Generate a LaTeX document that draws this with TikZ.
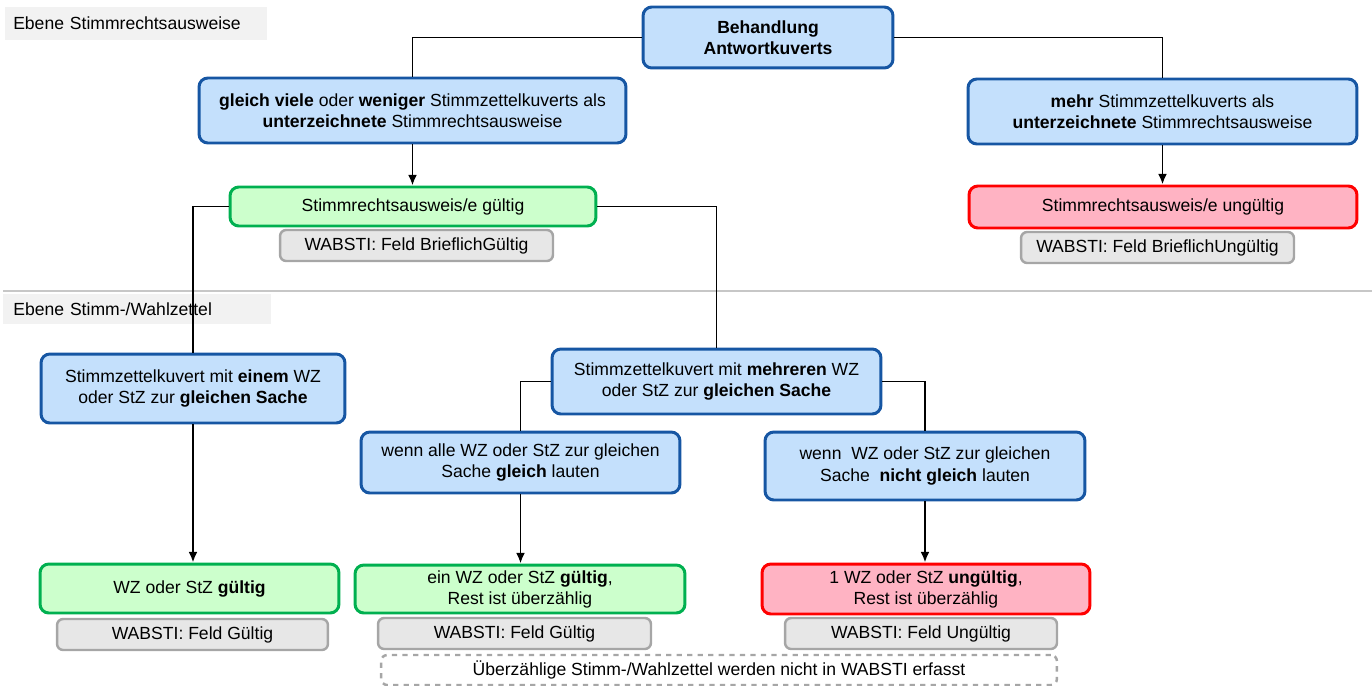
\documentclass[tikz,border=0pt]{standalone}
\usepackage{fontspec}
\setmainfont{Liberation Sans}
\usepackage{tikz}
\usetikzlibrary{arrows.meta}
\usepackage{xcolor}

\definecolor{boxblue}{HTML}{C4E0FC}
\definecolor{lineblue}{HTML}{1656A3}
\definecolor{boxgreen}{HTML}{CCFFCC}
\definecolor{linegreen}{HTML}{00B050}
\definecolor{boxred}{HTML}{FFB3C3}
\definecolor{linered}{HTML}{FF0000}
\definecolor{boxgray}{HTML}{E7E7E7}
\definecolor{linegray}{HTML}{A6A6A6}
\definecolor{levelgray}{HTML}{F2F2F2}

\begin{document}
\begin{tikzpicture}[x=0.02cm, y=-0.02cm,
    font=\fontsize{10}{12}\selectfont,
    box/.style={rounded corners=5pt, align=center, inner sep=2pt},
    blue box/.style={box, draw=lineblue, fill=boxblue, line width=1.7pt},
    green box/.style={box, draw=linegreen, fill=boxgreen, line width=1.7pt},
    red box/.style={box, draw=linered, fill=boxred, line width=1.7pt},
    field/.style={box, rounded corners=3.5pt, draw=linegray, fill=boxgray,
        line width=1.4pt, minimum height=0.62cm},
    level/.style={fill=levelgray, anchor=west, align=left, inner xsep=4.5pt},
    link/.style={black, line width=1.1pt},
    arrow/.style={link, -{Latex[length=6pt,width=5pt]}}]

    \useasboundingbox (0,0) rectangle (1372,686);

    % Ebenen
    \node[level, text width=140pt, minimum height=0.66cm] (lvlA) at (5,23.5)
        {Ebene Stimmrechtsausweise};
    \draw[draw=black!22, line width=0.8pt] (3,291) -- (1372,291);
    \node[level, text width=141pt, minimum height=0.6cm, inner xsep=5.7pt] (lvlB) at (3,309)
        {Ebene Stimm-/Wahlzettel};

    % Stimmrechtsausweise
    \node[blue box, minimum width=5cm, minimum height=1.22cm] (top) at (768,37.5)
        {\textbf{Behandlung}\\\textbf{Antwortkuverts}};
    \node[blue box, minimum width=8.54cm, minimum height=1.3cm] (gleich) at (412.5,110.5)
        {\textbf{gleich viele} oder \textbf{weniger} Stimmzettelkuverts als\\
         \textbf{unterzeichnete} Stimmrechtsausweise};
    \node[blue box, minimum width=7.78cm, minimum height=1.3cm] (mehr) at (1162.5,111.5)
        {\textbf{mehr} Stimmzettelkuverts als\\
         \textbf{unterzeichnete} Stimmrechtsausweise};
    \node[green box, minimum width=7.32cm, minimum height=0.78cm] (okA) at (413,206.5)
        {Stimmrechtsausweis/e gültig};
    \node[field, minimum width=5.46cm] (wabA) at (416.5,245.5)
        {WABSTI: Feld BrieflichGültig};
    \node[red box, minimum width=7.76cm, minimum height=0.84cm] (badA) at (1163,207)
        {Stimmrechtsausweis/e ungültig};
    \node[field, minimum width=5.46cm] (wabB) at (1157.5,247.5)
        {WABSTI: Feld BrieflichUngültig};

    % Stimm-/Wahlzettel
    \node[blue box, minimum width=6.08cm, minimum height=1.38cm] (einem) at (193,388.5)
        {Stimmzettelkuvert mit \textbf{einem} WZ\\
         oder StZ zur \textbf{gleichen Sache}};
    \node[blue box, minimum width=6.58cm, minimum height=1.3cm] (mehrere) at (716.5,381.5)
        {Stimmzettelkuvert mit \textbf{mehreren} WZ\\
         oder StZ zur \textbf{gleichen Sache}};
    \node[blue box, minimum width=6.38cm, minimum height=1.22cm] (gleichL) at (520.5,462.5)
        {wenn alle WZ oder StZ zur gleichen\\
         Sache \textbf{gleich} lauten};
    \node[blue box, minimum width=6.4cm, minimum height=1.36cm] (ungleich) at (925,466)
        {wenn\ \ WZ oder StZ zur gleichen\\
         Sache\ \ \textbf{nicht gleich} lauten};
    \node[green box, minimum width=5.98cm, minimum height=0.98cm] (okB) at (189.5,588.5)
        {WZ oder StZ \textbf{gültig}};
    \node[field, minimum width=5.42cm] (wabC) at (192.5,634.5)
        {WABSTI: Feld Gültig};
    \node[green box, minimum width=6.6cm, minimum height=0.96cm] (okC) at (520,589)
        {ein WZ oder StZ \textbf{gültig},\\ Rest ist überzählig};
    \node[field, minimum width=5.46cm] (wabD) at (514.5,633.5)
        {WABSTI: Feld Gültig};
    \node[red box, minimum width=6.56cm, minimum height=1cm] (badB) at (926,589)
        {1 WZ oder StZ \textbf{ungültig},\\ Rest ist überzählig};
    \node[field, minimum width=5.44cm] (wabE) at (921,633.5)
        {WABSTI: Feld Ungültig};
    \node[box, rounded corners=3.5pt, draw=linegray, dashed, fill=white, line width=1.4pt,
        minimum width=13.52cm, minimum height=0.6cm] (note) at (719,670)
        {Überzählige Stimm-/Wahlzettel werden nicht in WABSTI erfasst};

    % Verbindungen
    \draw[link] (top.west) -| (gleich.north);
    \draw[link] (top.east) -| (mehr.north);
    \draw[arrow] (gleich.south) -- (gleich.south |- okA.north);
    \draw[arrow] (mehr.south) -- (mehr.south |- badA.north);
    \draw[link] (okA.west) -| (einem.north);
    \draw[link] (okA.east) -| (mehrere.north);
    \draw[link] (mehrere.west) -| (gleichL.north);
    \draw[link] (mehrere.east) -| (ungleich.north);
    \draw[arrow] (einem.south) -- (einem.south |- okB.north);
    \draw[arrow] (gleichL.south) -- (gleichL.south |- okC.north);
    \draw[arrow] (ungleich.south) -- (ungleich.south |- badB.north);

\end{tikzpicture}
\end{document}
